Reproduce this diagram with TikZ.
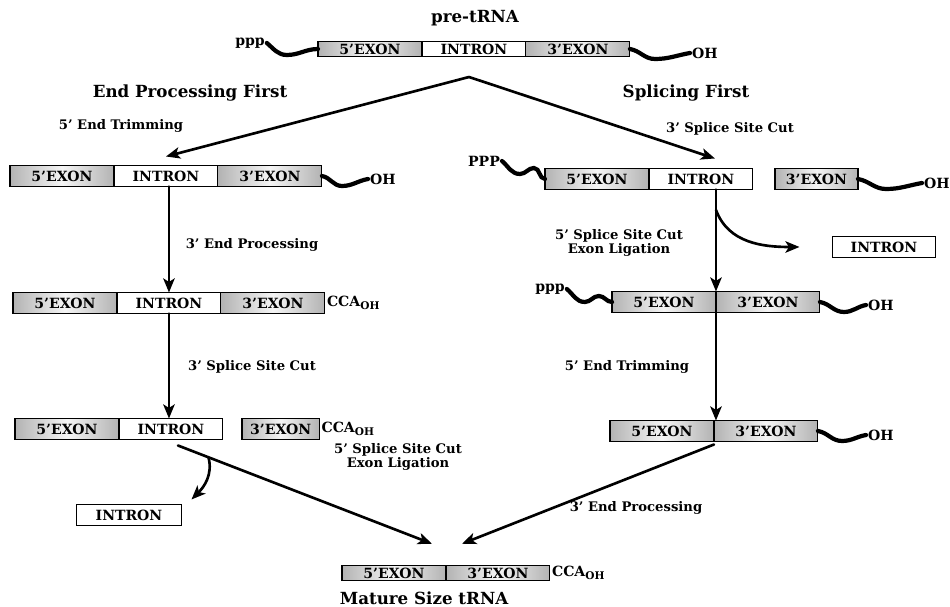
\documentclass[tikz,border=0pt]{standalone}
\usepackage{fontspec}
\setmainfont{DejaVu Serif}
\usetikzlibrary{positioning,arrows.meta}

\tikzset{
  seg/.style={draw, line width=0.6pt, minimum width=2.08cm, minimum height=0.42cm,
    inner sep=0pt, outer sep=0pt, font=\bfseries\fontsize{8}{9}\selectfont},
  exon/.style={seg, left color=gray!60, right color=gray!60, middle color=gray!8},
  intron/.style={seg, fill=white},
  thin/.style={minimum height=0.29cm},
  tail/.style={line width=2.4pt, line cap=round},
  flow/.style={line width=1.5pt, line cap=round, -{Stealth[length=8pt,width=6.5pt,inset=2pt]}},
  lbl/.style={font=\bfseries\fontsize{7.5}{8}\selectfont, align=center},
  headtxt/.style={font=\bfseries\fontsize{9.5}{11}\selectfont},
  endtxt/.style={font=\bfseries\fontsize{8}{9}\selectfont, inner sep=1pt}
}

\begin{document}
\begin{tikzpicture}[x=0.02cm, y=0.02cm]
\useasboundingbox (0,0) rectangle (950,-607);

% precursor
\node[headtxt] (pre) at (475,-18) {pre-tRNA};
\node[exon, thin, anchor=west] (t5) at (318,-49) {5'EXON};
\node[intron, thin, right=0pt of t5] (ti) {INTRON};
\node[exon, thin, right=0pt of ti] (t3) {3'EXON};
\node[endtxt] (tppp) at (250,-43) {ppp};
\node[endtxt, anchor=west] (toh) at (690,-53) {OH};
\draw[tail] (tppp.east) to[out=-40,in=180] ++(20,-12) to[out=0,in=180] (t5.west);
\draw[tail] (t3.east) to[out=-10,in=180] ++(25,-10) to[out=0,in=190] (toh.west);

\node[headtxt] (epf) at (190,-93) {End Processing First};
\node[headtxt] (spf) at (686,-93) {Splicing First};
\coordinate (apex) at (469,-77);

% left branch
\node[exon, anchor=west] (l15) at (10,-176) {5'EXON};
\node[intron, right=0pt of l15] (l1i) {INTRON};
\node[exon, right=0pt of l1i] (l13) {3'EXON};
\node[endtxt, anchor=west] (l1oh) at (368,-179) {OH};
\draw[tail] (l13.east) to[out=-10,in=180] ++(20,-10) to[out=0,in=190] (l1oh.west);

\node[exon, anchor=west] (l25) at (13,-303) {5'EXON};
\node[intron, right=0pt of l25] (l2i) {INTRON};
\node[exon, right=0pt of l2i] (l23) {3'EXON};
\node[endtxt, anchor=west] (l2cca) at (l23.east) {CCA\textsubscript{OH}};

\node[exon, anchor=west] (l35) at (15,-429) {5'EXON};
\node[intron, right=0pt of l35] (l3i) {INTRON};
\node[exon, minimum width=1.55cm, anchor=west] (l33) at (242,-429) {3'EXON};
\node[endtxt, anchor=west] (l3cca) at (l33.east) {CCA\textsubscript{OH}};
\node[intron, minimum width=2.1cm] (lint) at (129,-515) {INTRON};

\node[lbl] (ltrim) at (121,-126) {5' End Trimming};
\node[lbl] (lproc) at (252,-245) {3' End Processing};
\node[lbl] (lcut) at (252,-367) {3' Splice Site Cut};
\node[lbl] (llig) at (398,-457) {5' Splice Site Cut\\Exon Ligation};

% right branch
\node[endtxt] (r1ppp) at (484,-161) {PPP};
\node[exon, anchor=west] (r15) at (545,-179) {5'EXON};
\node[intron, right=0pt of r15] (r1i) {INTRON};
\node[exon, minimum width=1.66cm, anchor=west] (r13) at (775,-179) {3'EXON};
\node[endtxt, anchor=west] (r1oh) at (922,-183) {OH};
\draw[tail] (r1ppp.east) to[out=-40,in=180] ++(18,-13) to[out=0,in=180] ++(14,6) to[out=0,in=180] (r15.west);
\draw[tail] (r13.east) to[out=-10,in=180] ++(28,-10) to[out=0,in=190] (r1oh.west);
\node[intron, minimum width=2.06cm] (rint) at (884,-247) {INTRON};

\node[endtxt] (r2ppp) at (550,-289) {ppp};
\node[exon, anchor=west] (r25) at (612,-302) {5'EXON};
\node[exon, right=0pt of r25] (r23) {3'EXON};
\node[endtxt, anchor=west] (r2oh) at (866,-305) {OH};
\draw[tail] (r2ppp.east) to[out=-40,in=180] ++(18,-13) to[out=0,in=180] ++(14,6) to[out=0,in=180] (r25.west);
\draw[tail] (r23.east) to[out=-10,in=180] ++(24,-10) to[out=0,in=190] (r2oh.west);

\node[exon, anchor=west] (r35) at (610,-431) {5'EXON};
\node[exon, right=0pt of r35] (r33) {3'EXON};
\node[endtxt, anchor=west] (r3oh) at (866,-435) {OH};
\draw[tail] (r33.east) to[out=-10,in=180] ++(24,-10) to[out=0,in=190] (r3oh.west);

\node[lbl] (rcut) at (730,-129) {3' Splice Site Cut};
\node[lbl] (rlig) at (619,-243) {5' Splice Site Cut\\Exon Ligation};
\node[lbl] (rtrim) at (627,-367) {5' End Trimming};
\node[lbl] (rproc) at (636,-508) {3' End Processing};

% mature
\node[exon, thin, anchor=west] (m5) at (342,-573) {5'EXON};
\node[exon, thin, right=0pt of m5] (m3) {3'EXON};
\node[endtxt, anchor=west] (mcca) at (m3.east) {CCA\textsubscript{OH}};
\node[headtxt] (mat) at (424,-598) {Mature Size tRNA};

% arrows
\draw[flow] (apex) -- ([shift={(0,9)}]l1i.north);
\draw[flow] (apex) -- ([shift={(14,10)}]r1i.north);
\draw[flow] (l1i.south -| l2i.north) -- (l2i.north);
\draw[flow] (l2i.south) -- (l3i.north -| l2i.south);
\draw[flow] ([shift={(7,-6)}]l3i.south) -- coordinate[pos=0.12] (lbr) ([shift={(-14,22)}]m5.north east);
\draw[flow] (lbr) to[out=-75,in=45] ([shift={(10,5)}]lint.north east);
\draw[flow] (r1i.south -| r25.east) -- coordinate[pos=0.2] (rbr) (r25.north east);
\draw[flow] (rbr) to[out=-70,in=180] ([shift={(-33,0)}]rint.west);
\draw[flow] (r25.south east) -- (r35.north east -| r25.south east);
\draw[flow] ([shift={(0,-3)}]r35.south east) -- ([shift={(16,22)}]m3.north west);
\end{tikzpicture}
\end{document}
